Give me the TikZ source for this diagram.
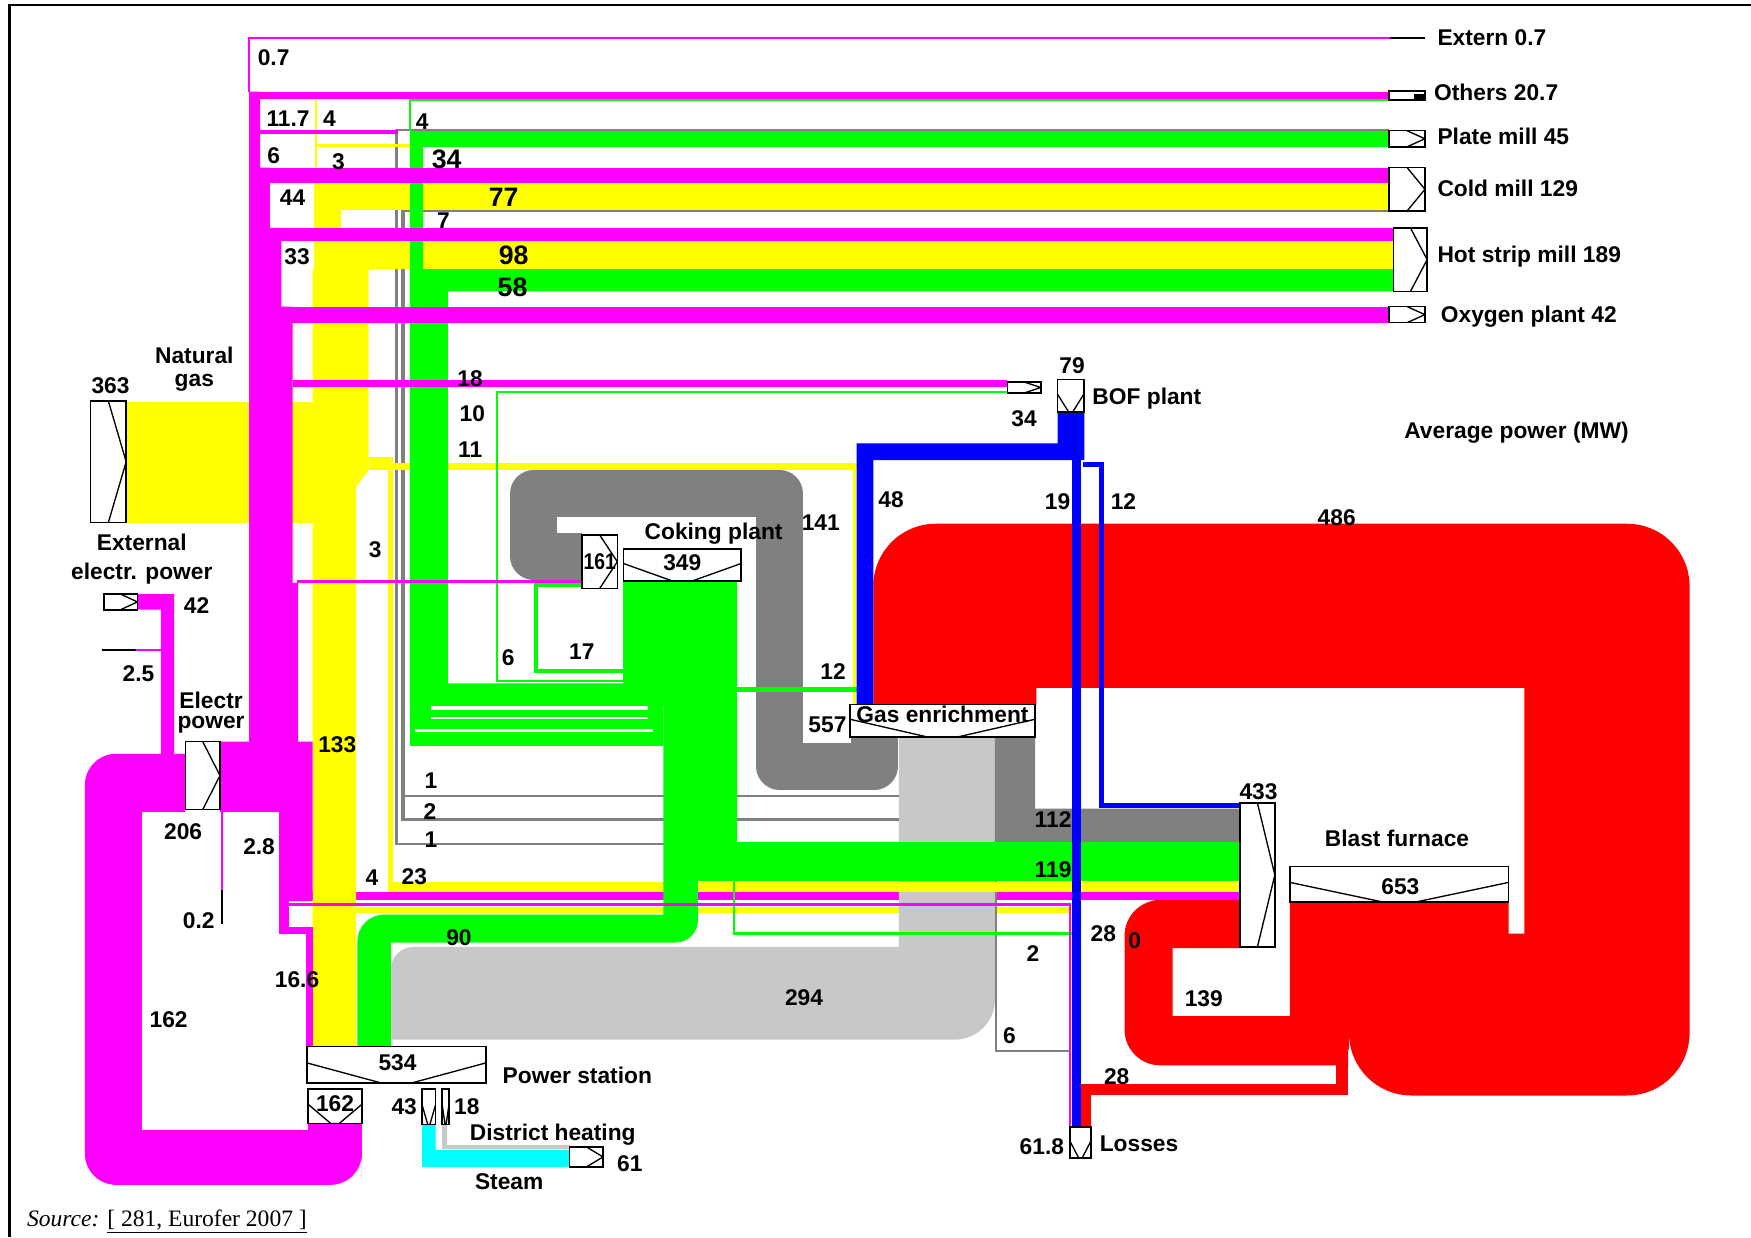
\documentclass[tikz,border=0pt]{standalone}
\usepackage{fontspec}
\setmainfont{Liberation Serif}
\setsansfont{Liberation Sans}
\usepackage{tikz}
\usetikzlibrary{positioning, calc}

\definecolor{elec}{HTML}{FF00FF}
\definecolor{natgas}{HTML}{FFFF00}
\definecolor{bfgas}{HTML}{00FF00}
\definecolor{cogas}{HTML}{808080}
\definecolor{mixgas}{HTML}{C8C8C8}
\definecolor{hotred}{HTML}{FF0000}
\definecolor{bofgas}{HTML}{0000FF}
\definecolor{steamc}{HTML}{00FFFF}

\tikzset{
  unitbox/.style={
    draw=black, fill=white, line width=0.35mm,
    inner sep=0pt, outer sep=0pt
  },
  chevR/.style={
    unitbox,
    path picture={\draw[line width=0.3mm]
      ($(path picture bounding box.north west)!0.5!(path picture bounding box.north east)$)
      -- (path picture bounding box.east)
      -- ($(path picture bounding box.south west)!0.5!(path picture bounding box.south east)$);}
  },
  chevV/.style={
    unitbox,
    path picture={\draw[line width=0.3mm]
      ($(path picture bounding box.north west)!0.45!(path picture bounding box.south west)$)
      -- ($(path picture bounding box.south west)!0.42!(path picture bounding box.south east)$)
      -- ($(path picture bounding box.south west)!0.58!(path picture bounding box.south east)$)
      -- ($(path picture bounding box.north east)!0.45!(path picture bounding box.south east)$);}
  },
  lbl/.style={font=\sffamily\bfseries\fontsize{14.5}{16}\selectfont, inner sep=0pt},
  bignum/.style={font=\sffamily\bfseries\fontsize{17}{18}\selectfont, inner sep=0pt},
  thinflow/.style={line width=0.5mm}
}

\begin{document}
\begin{tikzpicture}[x=0.25mm, y=-0.25mm]
\useasboundingbox (0,0) rectangle (1568,1108);

%------------------------------------------------------
% RED FLOWS (blast furnace gas)
%------------------------------------------------------
\fill[hotred] (782,631) -- (782,560) [rounded corners=14mm] -- (782,469) -- (1513,469)
  -- (1513,981) -- (1208,981) -- (1208,900) [sharp corners] -- (1208,808) -- (1351,808)
  -- (1351,836) -- (1365,836) -- (1365,616) -- (928,616) -- (928,631) -- cycle;
\fill[hotred] (1155,808) -- (1208,808) -- (1208,940) -- (1197,940) -- (1197,954)
  -- (1150,954) [rounded corners=8mm] -- (1007,954) -- (1007,806) -- (1060,806)
  [sharp corners] -- (1111,806) -- (1111,849) -- (1050,849) -- (1050,910) -- (1155,910) -- cycle;
\draw[hotred, line width=2.6mm] (1202,930) -- (1202,975.5) -- (972,975.5) -- (972,1010);

% bands running under the mixed gas
\fill[elec] (250,799) rectangle (1111,806);
\fill[natgas] (319,812) rectangle (959,818);

%------------------------------------------------------
% GREY FLOWS
%------------------------------------------------------
\fill[mixgas] (805,660) -- (891,660) -- (891,880) [rounded corners=9mm] -- (891,931) -- (700,931)
  [sharp corners] -- (350,931) -- (350,900) [rounded corners=5mm] -- (350,848) -- (500,848)
  [sharp corners] -- (805,848) -- cycle;
\draw[cogas, line width=10.5mm, line join=round] (783,658) -- (783,686) -- (698,686)
  -- (698,442) -- (478,442) -- (478,498) -- (521,498);
\fill[cogas] (891,660) -- (927,660) -- (927,724) -- (1111,724) -- (1111,754) -- (891,754) -- cycle;
\draw[cogas, line width=0.5mm] (1244,116.4) -- (355,116.4) -- (355,756) -- (805,756);
\draw[cogas, line width=0.8mm] (1244,188) -- (361,188) -- (361,734) -- (805,734);
\draw[cogas, line width=0.5mm] (361,713) -- (805,713);
\draw[cogas, line width=0.5mm] (892,752) -- (892,941) -- (958,941);

%------------------------------------------------------
% YELLOW FLOWS (natural gas)
%------------------------------------------------------
\fill[natgas] (113,360) rectangle (280,468);
\fill[natgas] (281,164) rectangle (1244,188);
\fill[natgas] (281,188) rectangle (305,216);
\fill[natgas] (281,215.5) rectangle (1248,241);
\fill[natgas] (280,241) -- (330,241) -- (330,421) -- (319,436) -- (319,937) -- (280,937) -- cycle;
\fill[natgas] (330,409) rectangle (352,421);
\fill[natgas] (330,415) rectangle (767,421);
\fill[natgas] (347,421) rectangle (352,799);
\fill[natgas] (347,790) rectangle (1111,799);
\draw[natgas, line width=0.6mm] (283,89) -- (283,164);
\draw[natgas, line width=0.6mm] (283,130) -- (367,130);
\draw[natgas, line width=0.6mm] (765,421) -- (765,631);

%------------------------------------------------------
% GREEN FLOWS
%------------------------------------------------------
\draw[bfgas, thinflow] (367,117) -- (367,89.6) -- (1244,89.6);
\fill[bfgas] (367,117) rectangle (1244,131.5);
\fill[bfgas] (367,131.5) -- (379,131.5) -- (379,241) -- (1248,241) -- (1248,261) -- (401,261)
  -- (401,612) -- (600,612) -- (600,632) -- (367,632) -- cycle;
\fill[bfgas] (367,632) rectangle (594,668);
\draw[white, line width=0.7mm] (386,634) -- (580,634);
\draw[white, line width=0.5mm] (386,643) -- (580,643);
\draw[white, line width=0.7mm] (372,654) -- (585,654);
\fill[bfgas] (558,520) -- (660,520) -- (660,754) -- (1111,754) -- (1111,789) -- (625,789)
  -- (625,820) [rounded corners=5mm] -- (625,844) -- (500,844) [sharp corners] -- (350,844)
  -- (350,937) -- (320,937) -- (320,870) [rounded corners=6mm] -- (320,819) -- (450,819)
  [sharp corners] -- (594,819) -- (594,632) -- (558,632) -- cycle;
\fill[bfgas] (660,615) rectangle (767,619.5);
\draw[bfgas, thinflow] (902,351) -- (445,351) -- (445,610) -- (564,610);
\draw[bfgas, line width=1mm] (521,524) -- (480,524) -- (480,601) -- (558,601);
\draw[bfgas, thinflow] (657,789) -- (657,836) -- (960,836);

%------------------------------------------------------
% MAGENTA FLOWS (electric power)
%------------------------------------------------------
\draw[elec, thinflow] (223,82) -- (223,34) -- (1245,34);
\fill[elec] (223,82) rectangle (1244,88.6);
\draw[elec, line width=0.9mm] (228,118) -- (356,118);
\fill[elec] (223,150) rectangle (1244,164);
\fill[elec] (223,204) rectangle (1248,215.5);
\fill[elec] (223,274.5) rectangle (1244,289);
\fill[elec] (262,340) rectangle (902,346.5);
\fill[elec] (266,519) rectangle (521,522);
\fill[elec] (223,82) -- (233,82) -- (233,150) -- (241.6,150) -- (241.6,204) -- (252,204)
  -- (252,274.5) -- (262,274.5) -- (262,522) -- (267,522) -- (267,664) -- (280,664)
  -- (280,807) -- (250,807) -- (250,727) -- (197,727) -- (197,664) -- (223,664) -- cycle;
\fill[elec] (250,806) rectangle (258.6,834);
\fill[elec] (250,830) rectangle (280,836);
\fill[elec] (274,834) rectangle (280,937);
\draw[elec, thinflow] (199,727) -- (199,797);
\draw[black, thinflow] (199,797) -- (199,827);
\fill[elec] (166,675) -- (120,675) [rounded corners=7mm] -- (76,675) -- (76,1061) -- (324,1061)
  -- (324,1030) [sharp corners] -- (324,1006) -- (276,1006) -- (276,1012) -- (127,1012)
  -- (127,727) -- (166,727) -- cycle;
\fill[elec] (123,532) -- (156,532) -- (156,675) -- (144,675) -- (144,546) -- (123,546) -- cycle;
\draw[black, thinflow] (91,582) -- (122,582);
\draw[elec, thinflow] (122,582) -- (144,582);
\draw[elec, thinflow] (258,810) -- (958,810) -- (958,1009);

%------------------------------------------------------
% BLUE FLOWS (BOF gas)
%------------------------------------------------------
\fill[bofgas] (947,368) -- (971,368) -- (971,412) -- (782,412) -- (782,631) -- (767,631)
  -- (767,397) -- (947,397) -- cycle;
\draw[bofgas, line width=2mm] (964,410) -- (964,1010);
\draw[bofgas, line width=1.1mm] (970,416) -- (986,416) -- (986,721) -- (1111,721);

%------------------------------------------------------
% STEAM AND DISTRICT HEATING
%------------------------------------------------------
\fill[steamc] (378,1007) -- (390,1007) -- (390,1030) -- (510,1030) -- (510,1045) -- (378,1045) -- cycle;
\draw[mixgas, line width=1mm] (398,1007) -- (398,1027) -- (510,1027);

%------------------------------------------------------
% UNIT BOXES
%------------------------------------------------------
\node[chevR, minimum width=8mm, minimum height=27.25mm] (ngasIn) at (97,413.5) {};
\node[chevR, minimum width=7.5mm, minimum height=3.5mm] (extIn) at (108,539) {};
\node[chevR, minimum width=7.75mm, minimum height=15.25mm] (elecPow) at (181.5,694.5) {};
\node[chevV, minimum width=40mm, minimum height=8.25mm] (powerSt) at (355,953.5) {};
\node[chevV, minimum width=12mm, minimum height=7.75mm] (heat162) at (300,990.5) {};
\node[chevV, minimum width=3mm, minimum height=8mm] (heat43) at (384,991) {};
\node[chevV, minimum width=1.5mm, minimum height=8mm] (heat18) at (399,991) {};
\node[chevR, minimum width=7.5mm, minimum height=4.5mm] (heat61) at (525,1036) {};
\node[chevR, minimum width=7.9mm, minimum height=12mm] (coal161) at (537,503) {};
\node[chevV, minimum width=26.4mm, minimum height=7.2mm] (coking) at (611,506) {};
\node[chevV, minimum width=41.5mm, minimum height=7.25mm] (gasEnr) at (844,645.5) {};
\node[chevR, minimum width=7.5mm, minimum height=2.5mm] (bofIn) at (917,347) {};
\node[chevV, minimum width=5.9mm, minimum height=7.2mm] (bofPlant) at (958.75,354.4) {};
\node[chevR, minimum width=7.8mm, minimum height=32.25mm] (bf433) at (1126,783.5) {};
\node[chevV, minimum width=49mm, minimum height=7.9mm] (bf653) at (1253,791.75) {};
\node[chevV, minimum width=4.75mm, minimum height=7mm] (losses) at (967.5,1023) {};
\node[unitbox, minimum width=8mm, minimum height=2mm] (others) at (1260,85.5) {};
\fill (1266,84) rectangle (others.south east);
\node[chevR, minimum width=8mm, minimum height=3.6mm] (plateMill) at (1260,124.25) {};
\node[chevR, minimum width=8mm, minimum height=9.75mm] (coldMill) at (1260,169.5) {};
\node[chevR, minimum width=7.5mm, minimum height=14.25mm] (hotMill) at (1263,232.5) {};
\node[chevR, minimum width=8mm, minimum height=3.6mm] (oxyPlant) at (1260,281.75) {};
\coordinate (externEnd) at (1276,34);
\draw[line width=0.6mm] (1245,34) -- (externEnd);

%------------------------------------------------------
% LABELS
%------------------------------------------------------
\node[lbl, anchor=west] (tExtern) at (1287,34) {Extern 0.7};
\node[lbl, anchor=west] (tOthers) at (1284,83) {Others 20.7};
\node[lbl, anchor=west] (tPlate) at (1287,122) {Plate mill 45};
\node[lbl, anchor=west] (tCold) at (1287,169) {Cold mill 129};
\node[lbl, anchor=west] (tHot) at (1287,230) {Hot strip mill 189};
\node[lbl, anchor=west] (tOxy) at (1290,284) {Oxygen plant 42};
\node[lbl] (v07) at (245,52) {0.7};
\node[lbl] (v117) at (258,106) {11.7};
\node[lbl] (v4a) at (295,106) {4};
\node[lbl] (v4b) at (378,109) {4};
\node[lbl] (v6a) at (245,139) {6};
\node[lbl] (v3a) at (303,145) {3};
\node[bignum] (v34a) at (400,143) {34};
\node[lbl] (v44) at (262,177) {44};
\node[bignum] (v77) at (451,177) {77};
\node[lbl] (v7) at (397,198) {7};
\node[lbl] (v33) at (266,230) {33};
\node[bignum] (v98) at (460,229) {98};
\node[bignum] (v58) at (459,257) {58};
\node[lbl] (v363) at (99,345) {363};
\node[lbl] (tNatural) at (174,318) {Natural};
\node[lbl] (tGas) at (174,343) {gas};
\node[lbl] (v18a) at (421,339) {18};
\node[lbl] (v10) at (423,370) {10};
\node[lbl] (v11) at (421,403) {11};
\node[lbl] (v79) at (960,327) {79};
\node[lbl] (tBof) at (1027,357) {BOF plant};
\node[lbl] (v34b) at (917,375) {34};
\node[lbl] (tAvg) at (1358,387) {Average power (MW)};
\node[lbl] (v48) at (798,447) {48};
\node[lbl] (v19) at (947,449) {19};
\node[lbl] (v12a) at (1006,449) {12};
\node[lbl] (v486) at (1197,464) {486};
\node[lbl] (v141) at (735,468) {141};
\node[lbl] (tCoking) at (639,478) {Coking plant};
\node[lbl] (v161) at (537,503) {\scalebox{0.85}[1]{161}};
\node[lbl] (v349) at (611,504) {349};
\node[lbl] (v3b) at (336,492) {3};
\node[lbl] (tExternal) at (127,486) {External};
\node[lbl] (tElectr) at (127,514) {electr. power};
\node[lbl] (v42) at (176,542) {42};
\node[lbl] (v25) at (124,603) {2.5};
\node[lbl] (v6b) at (455,589) {6};
\node[lbl] (v17) at (521,584) {17};
\node[lbl] (v12b) at (746,601) {12};
\node[lbl] (tElec) at (189,627) {Electr};
\node[lbl] (tPower) at (189,649) {power};
\node[lbl] (v557) at (741,649) {557};
\node[lbl] (tGasEnr) at (844,640) {Gas enrichment};
\node[lbl] (v133) at (302,667) {133};
\node[lbl] (v1a) at (386,699) {1};
\node[lbl] (v2a) at (385,727) {2};
\node[lbl] (v1b) at (386,752) {1};
\node[lbl] (v433) at (1127,709) {433};
\node[lbl] (v112) at (943,734) {112};
\node[lbl] (tBlast) at (1251,751) {Blast furnace};
\node[lbl] (v119) at (943,779) {119};
\node[lbl] (v653) at (1254,794) {653};
\node[lbl] (v206) at (164,745) {206};
\node[lbl] (v28a) at (232,758) {2.8};
\node[lbl] (v4c) at (333,786) {4};
\node[lbl] (v23) at (371,785) {23};
\node[lbl] (v02) at (178,824) {0.2};
\node[lbl] (v90) at (411,840) {90};
\node[lbl] (v28b) at (988,836) {28};
\node[lbl] (v0) at (1016,842) {0};
\node[lbl] (v2b) at (925,854) {2};
\node[lbl] (v166) at (266,877) {16.6};
\node[lbl] (v294) at (720,893) {294};
\node[lbl] (v139) at (1078,894) {139};
\node[lbl] (v162a) at (151,913) {162};
\node[lbl] (v6c) at (904,927) {6};
\node[lbl] (v534) at (356,952) {534};
\node[lbl] (tPowerSt) at (517,963) {Power station};
\node[lbl] (v28c) at (1000,964) {28};
\node[lbl] (v162b) at (300,988) {162};
\node[lbl] (v43) at (362,991) {43};
\node[lbl] (v18b) at (418,991) {18};
\node[lbl] (tDistrict) at (495,1016) {District heating};
\node[lbl] (v618) at (933,1027) {61.8};
\node[lbl] (tLosses) at (1020,1024) {Losses};
\node[lbl] (v61) at (564,1042) {61};
\node[lbl] (tSteam) at (456,1058) {Steam};
\node[font=\rmfamily\fontsize{15}{17}\selectfont, anchor=west, inner sep=0pt] (source)
  at (24,1094) {\textit{Source:} \underline{[ 281, Eurofer 2007 ]}};

% frame
\draw[line width=0.5mm] (8.5,1108) -- (8.5,4.5) -- (1568,4.5);

\end{tikzpicture}
\end{document}
